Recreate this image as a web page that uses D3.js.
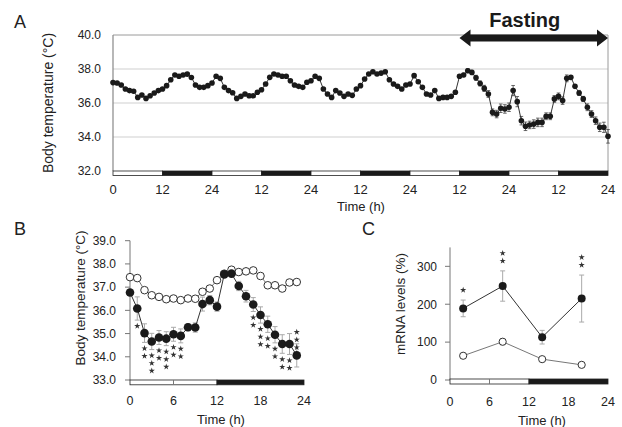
<!DOCTYPE html>
<html><head><meta charset="utf-8">
<script src="https://cdn.jsdelivr.net/npm/d3@7"></script>
<style>body{margin:0;background:#fff}svg{display:block}</style>
</head><body>
<svg id="c" width="622" height="427"></svg>
<script>
// ---------- DATA ----------
// Panel A: hourly body temperature, 0..120 h (5 days); fasting from 84 h
const tempA = [37.2,37.18,37.06,36.82,36.73,36.69,36.33,36.47,36.27,36.43,36.59,36.73,36.82,37.02,37.37,37.65,37.57,37.65,37.7,37.5,37.06,36.92,36.92,37.02,
  37.18,37.57,37.45,36.92,36.73,36.6,36.27,36.39,36.53,36.43,36.43,36.63,36.78,37.12,37.51,37.71,37.65,37.57,37.57,37.31,37.06,36.98,36.92,37.22,
  37.31,37.57,37.45,36.82,36.53,36.33,36.73,36.59,36.39,36.53,36.45,36.82,37.02,37.41,37.71,37.84,37.71,37.76,37.84,37.37,37.12,36.98,36.82,37.06,
  37.12,37.61,37.25,36.92,36.53,36.47,36.73,36.27,36.33,36.33,36.39,36.63,37.57,37.65,37.9,37.8,37.48,37.15,36.86,36.53,35.45,35.35,35.69,35.65,
  35.75,36.73,36.08,34.96,34.63,34.71,34.76,34.86,34.86,35.22,35.22,36.24,36.39,36.14,37.45,37.51,36.98,36.59,36.24,35.75,35.35,34.96,34.57,34.57,34.04];
const fastStartA = 84;
const errFastA = [0.1,0.1,0.12,0.12,0.15,0.15,0.18,0.2,0.2,0.22,0.25,0.25,0.25,0.3,0.3,0.25,0.25,0.22,0.25,0.25,0.25,0.2,0.2,0.2,0.2,0.22,0.2,0.1,0.1,0.15,0.15,0.2,0.2,0.22,0.25,0.3,0.4];
const ticksA = [0,12,24,36,48,60,72,84,96,108,120];
const tickLabelsA = ["0","12","24","12","24","12","24","12","24","12","24"];
const yTicksA = [32,34,36,38,40];

// Panel B: hourly body temperature over one day, control (open) vs fasting (filled)
const hoursB = [0,1,2,3,4,5,6,7,8,9,10,11,12,13,14,15,16,17,18,19,20,21,22,23];
const controlB = [37.43,37.39,36.87,36.65,36.58,36.48,36.51,36.44,36.51,36.5,36.8,36.94,37.3,37.58,37.75,37.65,37.68,37.72,37.48,37.08,37.08,36.94,37.2,37.22];
const fastingB = [36.77,36.08,35.02,34.66,34.83,34.78,34.97,34.9,35.27,35.26,36.27,36.44,36.16,37.55,37.58,37.05,36.61,36.25,35.8,35.4,34.95,34.55,34.55,34.06];
const fastingErrB = [0.12,0.5,0.4,0.35,0.3,0.3,0.3,0.3,0.15,0.2,0.3,0.2,0.2,0.1,0.1,0.2,0.25,0.3,0.35,0.35,0.35,0.4,0.45,0.5];
const starsB = [0,1,2,3,2,3,2,2,0,0,0,0,0,0,0,0,0,2,3,2,2,2,2,3];
const yTicksB = [33,34,35,36,37,38,39];
const xTicksB = [0,6,12,18,24];

// Panel C: mRNA levels (%)
const hoursC = [2,8,14,20];
const controlC = [64,101,55,40];
const fastingC = [189,248,113,215];
const fastingErrC = [22,40,18,62];
const controlErrC = [5,8,5,5];
const starsC = [1,2,0,2];
const yTicksC = [0,100,200,300];
const xTicksC = [0,6,12,18,24];

// ---------- DRAW ----------
const svg = d3.select("#c");
const FONT = "'Liberation Sans', Arial, Helvetica, sans-serif";
svg.attr("font-family", FONT);
const ink = "#1a1a1a";

function ldBar(g, x, y0, h, segs, divider) {
  segs.forEach(([a,b,dark]) => {
    g.append("rect").attr("x", x(a)).attr("y", y0).attr("width", x(b)-x(a)).attr("height", h)
      .attr("fill", dark ? ink : "#fff").attr("stroke", "#222").attr("stroke-width", 0.8);
  });
  if (divider !== undefined) {
    g.append("line").attr("x1", x(divider)).attr("x2", x(divider)).attr("y1", y0).attr("y2", y0+h)
      .attr("stroke", "#777").attr("stroke-width", 1);
  }
}
const star = d3.symbol().type(d3.symbolStar).size(12);

// ===== Panel A =====
{
  const xA = d3.scaleLinear().domain([0,120]).range([113,608]);
  const yA = d3.scaleLinear().domain([32,40]).range([171,35]);
  const g = svg.append("g");
  g.selectAll(".grid").data([34,36,38,40]).enter().append("line")
    .attr("x1", xA(0)).attr("x2", xA(120)).attr("y1", d=>yA(d)).attr("y2", d=>yA(d))
    .attr("stroke", d => d===40 ? "#9a9a9a" : "#cfcfcf").attr("stroke-width", 1);
  g.append("line").attr("x1", xA(120)).attr("x2", xA(120)).attr("y1", yA(40)).attr("y2", yA(32))
    .attr("stroke", "#9a9a9a").attr("stroke-width", 1);
  g.append("line").attr("x1", xA(0)).attr("x2", xA(0)).attr("y1", yA(40)).attr("y2", yA(32))
    .attr("stroke", "#888").attr("stroke-width", 1.2);
  g.selectAll(".yt").data(yTicksA).enter().append("text")
    .attr("x", 101).attr("y", d=>yA(d)).attr("dy", "0.36em").attr("text-anchor","end")
    .attr("font-size", 12).attr("fill", "#222").text(d=>d.toFixed(1));
  const segsA = [];
  for (let i=0;i<ticksA.length-1;i++) segsA.push([ticksA[i], ticksA[i+1], i%2===1]);
  ldBar(g, xA, yA(32), 4.5, segsA);
  g.selectAll(".xt").data(ticksA).enter().append("text")
    .attr("x", d=>xA(d)).attr("y", 194).attr("text-anchor","middle")
    .attr("font-size", 13).attr("fill", "#222").text((d,i)=>tickLabelsA[i]);
  g.append("text").attr("x", 361).attr("y", 211).attr("text-anchor","middle")
    .attr("font-size", 13).attr("fill","#222").text("Time (h)");
  g.append("text").attr("transform","translate(53,103) rotate(-90)").attr("text-anchor","middle")
    .attr("font-size", 14).attr("fill","#222").text("Body temperature (°C)");
  g.append("text").attr("x", 14).attr("y", 28).attr("font-size", 18).attr("fill","#222").text("A");
  const ptsA = tempA.map((v,i)=>({t:i, v, e: i>=fastStartA ? errFastA[i-fastStartA] : 0}));
  const eb = ptsA.filter(d=>d.e>0);
  g.selectAll(".ea").data(eb).enter().append("line")
    .attr("x1", d=>xA(d.t)).attr("x2", d=>xA(d.t)).attr("y1", d=>yA(d.v-d.e)).attr("y2", d=>yA(d.v+d.e))
    .attr("stroke", "#444").attr("stroke-width", 0.8);
  g.selectAll(".eac").data(eb.flatMap(d=>[[d.t,d.v-d.e],[d.t,d.v+d.e]])).enter().append("line")
    .attr("x1", d=>xA(d[0])-1.8).attr("x2", d=>xA(d[0])+1.8).attr("y1", d=>yA(d[1])).attr("y2", d=>yA(d[1]))
    .attr("stroke", "#444").attr("stroke-width", 0.8);
  g.append("path").datum(ptsA).attr("fill","none").attr("stroke","#333").attr("stroke-width",1)
    .attr("d", d3.line().x(d=>xA(d.t)).y(d=>yA(d.v)));
  g.selectAll(".da").data(ptsA).enter().append("circle")
    .attr("cx", d=>xA(d.t)).attr("cy", d=>yA(d.v)).attr("r", 2.8).attr("fill", ink);
  const ax0 = xA(fastStartA), ax1 = xA(120), ay = 38;
  const hl = 11, hh = 8.5, bw = 3.5;
  g.append("path").attr("fill", ink).attr("d",
    `M${ax0},${ay} L${ax0+hl},${ay-hh} L${ax0+hl},${ay-bw} L${ax1-hl},${ay-bw} L${ax1-hl},${ay-hh} L${ax1},${ay} L${ax1-hl},${ay+hh} L${ax1-hl},${ay+bw} L${ax0+hl},${ay+bw} L${ax0+hl},${ay+hh} Z`);
  g.append("text").attr("x", (ax0+ax1)/2-9).attr("y", 27).attr("text-anchor","middle")
    .attr("font-size", 20).attr("font-weight","bold").attr("fill", ink).text("Fasting");
}

// ===== Panel B =====
{
  const xB = d3.scaleLinear().domain([0,24]).range([130,304]);
  const yB = d3.scaleLinear().domain([33,39]).range([380,240.7]);
  const g = svg.append("g");
  g.append("line").attr("x1", xB(0)).attr("x2", xB(0)).attr("y1", yB(39)).attr("y2", yB(33))
    .attr("stroke","#777").attr("stroke-width",1);
  g.selectAll(".tk").data(yTicksB).enter().append("line")
    .attr("x1", xB(0)-5).attr("x2", xB(0)).attr("y1", d=>yB(d)).attr("y2", d=>yB(d))
    .attr("stroke","#777").attr("stroke-width",1);
  g.selectAll(".yt").data(yTicksB).enter().append("text")
    .attr("x", 116).attr("y", d=>yB(d)).attr("dy","0.36em").attr("text-anchor","end")
    .attr("font-size", 12).attr("fill","#222").text(d=>d.toFixed(1));
  ldBar(g, xB, yB(33), 4.8, [[0,12,false],[12,24,true]], 6);
  g.selectAll(".xt").data(xTicksB).enter().append("text")
    .attr("x", d=>xB(d)).attr("y", 405).attr("text-anchor","middle")
    .attr("font-size", 12.5).attr("fill","#222").text(d=>d);
  g.append("text").attr("x", 221).attr("y", 424).attr("text-anchor","middle")
    .attr("font-size", 13).attr("fill","#222").text("Time (h)");
  g.append("text").attr("transform","translate(85,298) rotate(-90)").attr("text-anchor","middle")
    .attr("font-size", 13.5).attr("fill","#222").text("Body temperature (°C)");
  g.append("text").attr("x", 14).attr("y", 235).attr("font-size", 18).attr("fill","#222").text("B");

  const fpts = hoursB.map((t,i)=>({t, v:fastingB[i], e:fastingErrB[i], s:starsB[i]}));
  const cpts = hoursB.map((t,i)=>({t, v:controlB[i]}));
  g.selectAll(".eb").data(fpts).enter().append("line")
    .attr("x1", d=>xB(d.t)).attr("x2", d=>xB(d.t)).attr("y1", d=>yB(d.v-d.e)).attr("y2", d=>yB(d.v+d.e))
    .attr("stroke","#aaa").attr("stroke-width",1);
  g.selectAll(".ebc").data(fpts.flatMap(d=>[[d.t,d.v-d.e],[d.t,d.v+d.e]])).enter().append("line")
    .attr("x1", d=>xB(d[0])-2.5).attr("x2", d=>xB(d[0])+2.5).attr("y1", d=>yB(d[1])).attr("y2", d=>yB(d[1]))
    .attr("stroke","#aaa").attr("stroke-width",1);
  g.append("path").datum(cpts).attr("fill","none").attr("stroke","#777").attr("stroke-width",1)
    .attr("d", d3.line().x(d=>xB(d.t)).y(d=>yB(d.v)));
  g.append("path").datum(fpts).attr("fill","none").attr("stroke","#333").attr("stroke-width",1)
    .attr("d", d3.line().x(d=>xB(d.t)).y(d=>yB(d.v)));
  g.selectAll(".co").data(cpts).enter().append("circle")
    .attr("cx", d=>xB(d.t)).attr("cy", d=>yB(d.v)).attr("r", 3.8)
    .attr("fill","#fff").attr("stroke","#333").attr("stroke-width",1);
  g.selectAll(".fo").data(fpts).enter().append("circle")
    .attr("cx", d=>xB(d.t)).attr("cy", d=>yB(d.v)).attr("r", 4.3).attr("fill", ink);
  const st = [];
  fpts.forEach((d,i)=>{
    for (let k=0;k<d.s;k++) {
      if (i===hoursB.length-1) st.push([xB(d.t), yB(d.v)-8-k*7.7]);
      else st.push([xB(d.t), yB(d.v-d.e)+6+k*7.6]);
    }
  });
  g.selectAll(".st").data(st).enter().append("path")
    .attr("transform", d=>`translate(${d[0]},${d[1]})`).attr("d", star).attr("fill","#333");
}

// ===== Panel C =====
{
  const xC = d3.scaleLinear().domain([0,24]).range([450,608]);
  const yC = d3.scaleLinear().domain([0,350]).range([380,247.4]);
  const g = svg.append("g");
  g.append("line").attr("x1", xC(0)).attr("x2", xC(0)).attr("y1", yC(350)).attr("y2", yC(0))
    .attr("stroke","#777").attr("stroke-width",1);
  g.selectAll(".tk").data(yTicksC).enter().append("line")
    .attr("x1", xC(0)-5).attr("x2", xC(0)).attr("y1", d=>yC(d)).attr("y2", d=>yC(d))
    .attr("stroke","#777").attr("stroke-width",1);
  g.selectAll(".yt").data(yTicksC).enter().append("text")
    .attr("x", 437).attr("y", d=>yC(d)).attr("dy","0.36em").attr("text-anchor","end")
    .attr("font-size", 12).attr("fill","#222").text(d=>d);
  ldBar(g, xC, yC(0)-1, 5, [[0,12,false],[12,24,true]], 6);
  g.selectAll(".xt").data(xTicksC).enter().append("text")
    .attr("x", d=>xC(d)).attr("y", 406).attr("text-anchor","middle")
    .attr("font-size", 12.5).attr("fill","#222").text(d=>d);
  g.append("text").attr("x", 542).attr("y", 425).attr("text-anchor","middle")
    .attr("font-size", 13).attr("fill","#222").text("Time (h)");
  g.append("text").attr("transform","translate(405,304) rotate(-90)").attr("text-anchor","middle")
    .attr("font-size", 13.5).attr("fill","#222").text("mRNA levels (%)");
  g.append("text").attr("x", 362).attr("y", 235).attr("font-size", 18).attr("fill","#222").text("C");

  const fpts = hoursC.map((t,i)=>({t, v:fastingC[i], e:fastingErrC[i], s:starsC[i]}));
  const cpts = hoursC.map((t,i)=>({t, v:controlC[i], e:controlErrC[i]}));
  const all = fpts.concat(cpts);
  g.selectAll(".eb").data(all).enter().append("line")
    .attr("x1", d=>xC(d.t)).attr("x2", d=>xC(d.t)).attr("y1", d=>yC(d.v-d.e)).attr("y2", d=>yC(d.v+d.e))
    .attr("stroke","#aaa").attr("stroke-width",1);
  g.selectAll(".ebc").data(all.flatMap(d=>[[d.t,d.v-d.e],[d.t,d.v+d.e]])).enter().append("line")
    .attr("x1", d=>xC(d[0])-2.5).attr("x2", d=>xC(d[0])+2.5).attr("y1", d=>yC(d[1])).attr("y2", d=>yC(d[1]))
    .attr("stroke","#aaa").attr("stroke-width",1);
  g.append("path").datum(cpts).attr("fill","none").attr("stroke","#777").attr("stroke-width",1)
    .attr("d", d3.line().x(d=>xC(d.t)).y(d=>yC(d.v)));
  g.append("path").datum(fpts).attr("fill","none").attr("stroke","#333").attr("stroke-width",1)
    .attr("d", d3.line().x(d=>xC(d.t)).y(d=>yC(d.v)));
  g.selectAll(".co").data(cpts).enter().append("circle")
    .attr("cx", d=>xC(d.t)).attr("cy", d=>yC(d.v)).attr("r", 3.6)
    .attr("fill","#fff").attr("stroke","#333").attr("stroke-width",1);
  g.selectAll(".fo").data(fpts).enter().append("circle")
    .attr("cx", d=>xC(d.t)).attr("cy", d=>yC(d.v)).attr("r", 4).attr("fill", ink);
  const st = [];
  fpts.forEach(d=>{ for (let k=0;k<d.s;k++) st.push([xC(d.t), yC(d.v+d.e)-10-k*7.7]); });
  g.selectAll(".st").data(st).enter().append("path")
    .attr("transform", d=>`translate(${d[0]},${d[1]})`).attr("d", star).attr("fill","#333");
}
</script>
</body></html>
